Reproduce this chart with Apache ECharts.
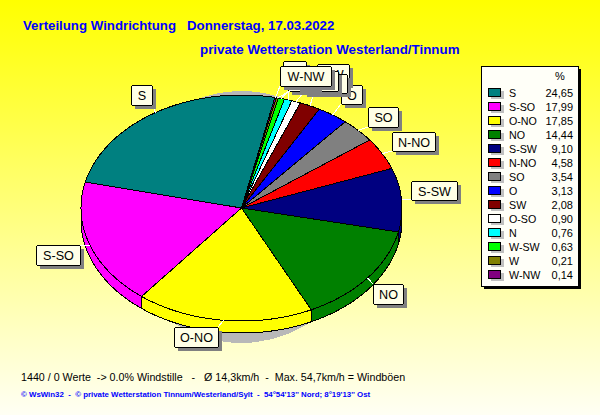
<!DOCTYPE html>
<html><head><meta charset="utf-8">
<style>html,body{margin:0;padding:0;background:#fff}#c{width:600px;height:415px}#c svg path{shape-rendering:crispEdges}</style>
<script src="https://cdn.jsdelivr.net/npm/echarts@6/dist/echarts.min.js"></script>
</head><body><div id="c"></div>
<script>
const directions = ['S','S-SO','O-NO','NO','S-SW','N-NO','SO','O','SW','O-SO','N','W-SW','W','W-NW'];
const percents = [24.65,17.99,17.85,14.44,9.10,4.58,3.54,3.13,2.08,0.90,0.76,0.63,0.21,0.14];
const percentLabels = ['24,65','17,99','17,85','14,44','9,10','4,58','3,54','3,13','2,08','0,90','0,76','0,63','0,21','0,14'];
const sliceColors = ['#008080','#ff00ff','#ffff00','#008000','#000080','#ff0000','#808080','#0000ff','#800000','#ffffff','#00ffff','#00ff00','#808000','#800080'];
const titleText = 'Verteilung Windrichtung   Donnerstag, 17.03.2022';
const subtitleText = 'private Wetterstation Westerland/Tinnum';
const statsText = '1440 / 0 Werte  -> 0.0% Windstille   -   Ø 14,3km/h  -  Max. 54,7km/h = Windböen';
const creditText = '© WsWin32  -  © private Wetterstation Tinnum/Westerland/Sylt  -  54°54\'13\'\' Nord; 8°19\'13\'\' Ost';

// layout
const P = {cx:241.5, cy:208, rx:160.5, ry:113, depth:12, start:12};
const labelBoxes = {S:[131,85,21,20],'S-SO':[36,245,44,20],'O-NO':[174,327,44,20],NO:[373,284,30,20],'S-SW':[411,181,46,19],
 'N-NO':[392,132,43,19],SO:[368,107,30,20],O:[341,85,21,19],SW:[317,64,32,20],'O-SO':[303,74,44,19],N:[283,61,23,20],'W-SW':[288,71,50,20],W:[296,68,22,20],'W-NW':[280,66,51,20]};
const L = {x:481,y:66,w:97,h:220,top:92,pitch:14,swX:488,swW:13,swH:8,nameX:509,valX:573,pctX:560,pctY:76};
const FONT = 'Liberation Sans';

// clockwise from the top, ascending slice order (smallest first)
const total = percents.reduce((a,b)=>a+b,0);
function sliceRange(i){
  let before = 0;
  for(let k=percents.length-1;k>i;k--) before += percents[k];
  const a0 = P.start + before/total*360;
  return [a0, a0 + percents[i]/total*360];
}
function pt(deg,dy){
  const t = deg*Math.PI/180;
  return [P.cx+P.rx*Math.sin(t), P.cy-P.ry*Math.cos(t)+(dy||0)];
}
function arc(a0,a1,dy){
  const n = Math.max(2,Math.ceil((a1-a0)/1.5)), out=[];
  for(let i=0;i<=n;i++) out.push(pt(a0+(a1-a0)*i/n,dy));
  return out;
}
function renderSlice(params,api){
  const i = params.dataIndex, [a0,a1] = sliceRange(i), color = sliceColors[i];
  const children = [];
  const w0 = Math.max(a0,90), w1 = Math.min(a1,270);
  if(w1>w0){
    children.push({type:'polygon',shape:{points:arc(w0,w1,0).concat(arc(w0,w1,P.depth).reverse())},
      style:{fill:color,stroke:'#000',lineWidth:1}});
  }
  children.push({type:'polygon',shape:{points:[[P.cx,P.cy]].concat(arc(a0,a1,0))},
    style:{fill:color,stroke:'#000',lineWidth:1}});
  return {type:'group',children};
}
function renderLabel(params,api){
  const name = directions[params.dataIndex], b = labelBoxes[name];
  const [a0,a1] = sliceRange(params.dataIndex);
  const p = pt((a0+a1)/2);
  const ex = Math.min(Math.max(p[0],b[0]),b[0]+b[2]), ey = Math.min(Math.max(p[1],b[1]),b[1]+b[3]);
  return {type:'group',children:[
    {type:'line',shape:{x1:p[0],y1:p[1],x2:ex,y2:ey},style:{stroke:'#fff',lineWidth:1}},
    {type:'rect',shape:{x:b[0]+4,y:b[1]+4,width:b[2],height:b[3]},style:{fill:'#808080'}},
    {type:'rect',shape:{x:b[0]+.5,y:b[1]+.5,width:b[2],height:b[3],r:2},style:{fill:'#ffffe6',stroke:'#000',lineWidth:1}},
    {type:'text',x:b[0]+b[2]/2+.5,y:b[1]+b[3]/2+1,style:{text:name,fill:'#000',font:'12.6px "'+FONT+'"',align:'center',verticalAlign:'middle'}}
  ]};
}
function renderLegendRow(params,api){
  const i = params.dataIndex, y = L.top+i*L.pitch;
  return {type:'group',children:[
    {type:'rect',shape:{x:L.swX+3,y:y-4+3,width:L.swW,height:L.swH},style:{fill:'#c0c0c0'}},
    {type:'rect',shape:{x:L.swX+.5,y:y-4+.5,width:L.swW-1,height:L.swH-1+1},style:{fill:sliceColors[i],stroke:'#000',lineWidth:1}},
    {type:'text',x:L.nameX,y:y+.5,style:{text:directions[i],fill:'#000',font:'10.7px "'+FONT+'"',align:'left',verticalAlign:'middle'}},
    {type:'text',x:L.valX,y:y+.5,style:{text:percentLabels[i],fill:'#000',font:'11px "'+FONT+'"',align:'right',verticalAlign:'middle'}}
  ]};
}
const seriesData = directions.map((d,i)=>({name:d,value:percents[i]}));
const chart = echarts.init(document.getElementById('c'),null,{renderer:'svg'});
chart.setOption({
  animation:false,
  backgroundColor:{type:'linear',x:0,y:0,x2:0,y2:1,colorStops:[{offset:0,color:'#ffff00'},{offset:1,color:'#fffff4'}]},
  graphic:[
    {type:'ellipse',z:0,shape:{cx:P.cx,cy:P.cy+9,rx:125,ry:P.ry+13},style:{fill:'#b8b8b8'}},
    {type:'text',z:5,left:23,top:19,style:{text:titleText,fill:'#0000ff',font:'bold 13.25px "'+FONT+'"'}},
    {type:'text',z:5,left:200,top:43,style:{text:subtitleText,fill:'#0000ff',font:'bold 13.35px "'+FONT+'"'}},
    {type:'rect',z:1,shape:{x:L.x+3,y:L.y+3,width:L.w,height:L.h},style:{fill:'#000'}},
    {type:'rect',z:1,shape:{x:L.x+.5,y:L.y+.5,width:L.w,height:L.h},style:{fill:'#fffff8',stroke:'#000',lineWidth:1}},
    {type:'text',z:5,x:L.pctX,y:L.pctY-6,style:{text:'%',fill:'#000',font:'11px "'+FONT+'"',align:'center'}},
    {type:'text',z:5,left:21,top:371,style:{text:statsText,fill:'#000',font:'10.7px "'+FONT+'"'}},
    {type:'text',z:5,left:21,top:390,style:{text:creditText,fill:'#0000ff',font:'bold 7.87px "'+FONT+'"'}}
  ],
  series:[
    {type:'custom',coordinateSystem:'none',z:2,silent:true,data:seriesData,renderItem:renderSlice},
    {type:'custom',coordinateSystem:'none',z:3,silent:true,data:seriesData,renderItem:renderLabel},
    {type:'custom',coordinateSystem:'none',z:4,silent:true,data:seriesData,renderItem:renderLegendRow}
  ]
});
</script></body></html>
